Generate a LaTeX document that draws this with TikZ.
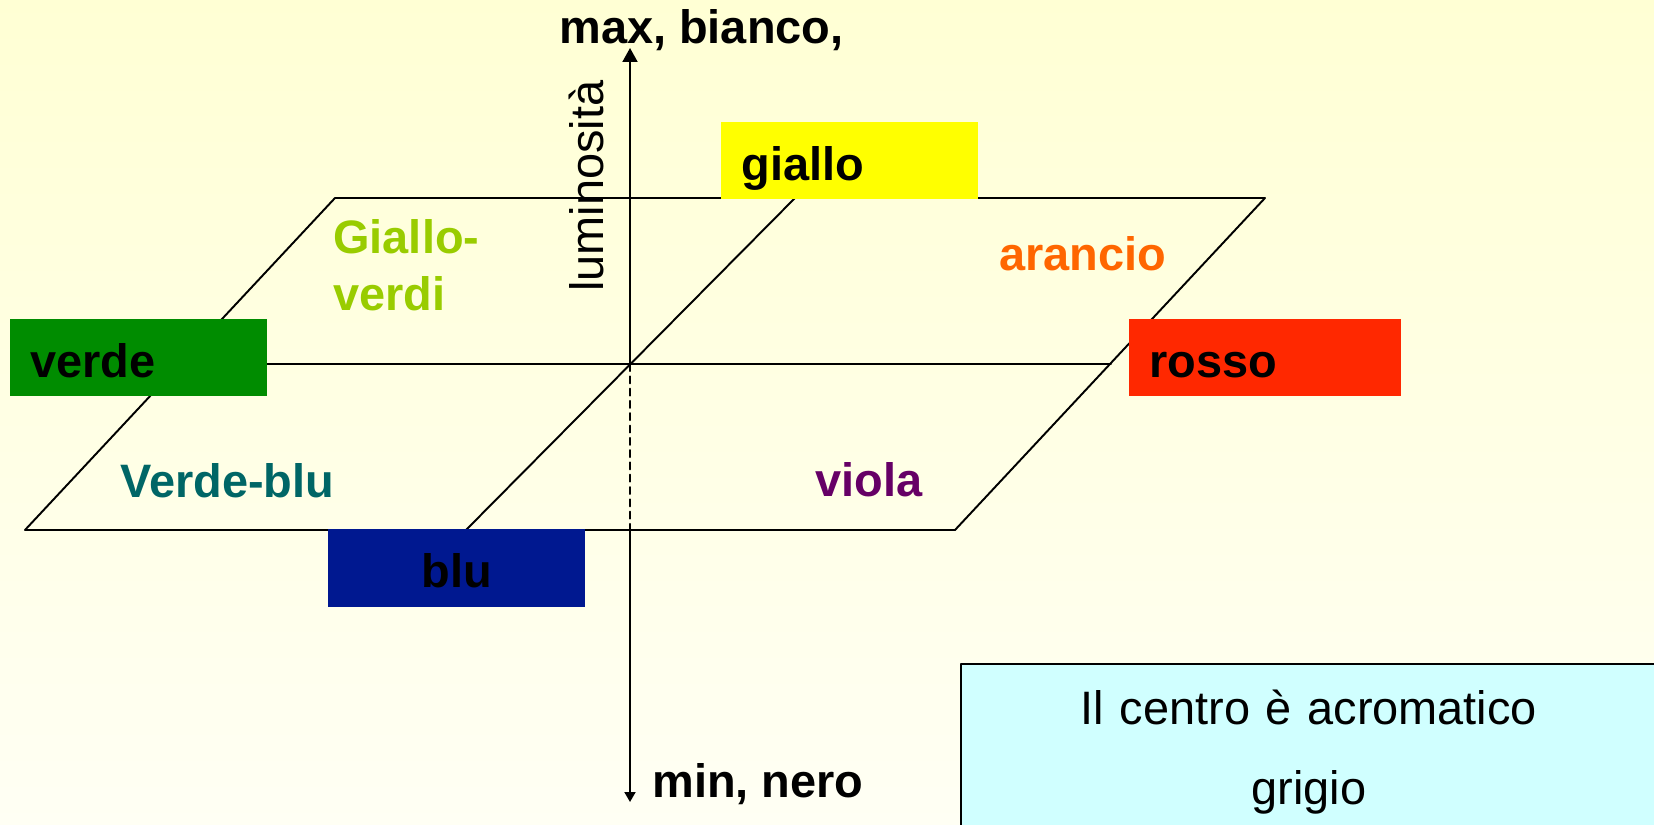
\documentclass[tikz,border=0pt]{standalone}
\usepackage{fontspec}
\setmainfont{Liberation Sans}
\usetikzlibrary{arrows.meta,positioning}

\definecolor{bgTop}{RGB}{255,255,212}
\definecolor{bgBot}{RGB}{255,255,244}
\definecolor{gialloBox}{RGB}{255,255,0}
\definecolor{verdeBox}{RGB}{0,140,0}
\definecolor{rossoBox}{RGB}{255,40,0}
\definecolor{bluBox}{RGB}{0,24,144}
\definecolor{gialloVerdi}{RGB}{153,204,0}
\definecolor{arancio}{RGB}{255,102,0}
\definecolor{verdeBlu}{RGB}{0,102,102}
\definecolor{viola}{RGB}{102,0,102}
\definecolor{infoCyan}{RGB}{208,255,255}

\begin{document}
\begin{tikzpicture}[
		x=0.02cm,
		y=-0.02cm,
		line cap=round,
		line join=round,
		edge/.style={line width=1.1pt},
		lbl/.style={font=\fontsize{26.7}{32}\selectfont\bfseries, anchor=base west, inner sep=0pt},
		colbox/.style={anchor=north west, inner ysep=0pt, inner xsep=0.4cm,
			text height=1.16cm, text depth=0.38cm, text width=4.34cm, align=left,
			font=\fontsize{26.7}{32}\selectfont\bfseries},
		infobox/.style={anchor=north west, draw=black, line width=1.1pt, fill=infoCyan,
			inner sep=0pt, text width=13.92cm, align=center,
			text height=1.22cm, text depth=2.12cm,
			font=\fontsize{26.7}{45.35}\selectfont}
		]
		
		%------------------------------------------------------------------
		% Background
		%------------------------------------------------------------------
		\useasboundingbox (0,0) rectangle (1654,825);
		\shade[top color=bgTop, bottom color=bgBot] (0,0) rectangle (1654,825);
		
		%------------------------------------------------------------------
		% Coordinates
		%------------------------------------------------------------------
		\coordinate (pTL)  at ( 335,198);
		\coordinate (pTR)  at (1265,198);
		\coordinate (pBR)  at ( 955,530);
		\coordinate (pBL)  at (  25,530);
		
		\coordinate (O)    at ( 630,364);
		\coordinate (mL)   at ( 180,364);
		\coordinate (mR)   at (1111,364);
		\coordinate (dTop) at ( 795,198);
		\coordinate (dBot) at ( 466,530);
		
		\coordinate (axTop) at (630, 48);
		\coordinate (axMid) at (630,530);
		\coordinate (axBot) at (630,802);
		
		%------------------------------------------------------------------
		% Hue plane
		%------------------------------------------------------------------
		\draw[edge] (pTL) -- (pTR) -- (pBR) -- (pBL) -- cycle;
		\draw[edge] (mL) -- (mR);
		\draw[edge] (dBot) -- (dTop);
		
		%------------------------------------------------------------------
		% Luminance axis
		%------------------------------------------------------------------
		\draw[edge, -{Triangle[length=0.28cm,width=0.3cm]}] (O) -- (axTop);
		\draw[edge, dash pattern=on 4pt off 3pt] (O) -- (axMid);
		\draw[edge, -{Triangle[length=0.2cm,width=0.22cm]}] (axMid) -- (axBot);
		
		%------------------------------------------------------------------
		% Colour boxes
		%------------------------------------------------------------------
		\node[colbox, fill=gialloBox] (giallo) at ( 721,122) {giallo};
		\node[colbox, fill=verdeBox]  (verde)  at (  10,319) {verde};
		\node[colbox, fill=rossoBox, text width=4.64cm] (rosso) at (1129,319) {rosso};
		\node[colbox, fill=bluBox, align=center, text height=1.16cm, text depth=0.4cm] (blu) at (328,529) {blu};
		
		%------------------------------------------------------------------
		% Labels
		%------------------------------------------------------------------
		\node[lbl, text=gialloVerdi, align=left, font=\fontsize{26.7}{32.3}\selectfont\bfseries] (gv) at (333,310) {Giallo-\\verdi};
		\node[lbl, text=arancio]  (ar) at ( 999,270) {arancio};
		\node[lbl, text=verdeBlu] (vb) at ( 120,497) {Verde-blu};
		\node[lbl, text=viola]    (vi) at ( 815,496) {viola};
		
		\node[lbl] (maxB) at (559, 43) {max, bianco,};
		\node[lbl] (minN) at (652,797) {min, nero};
		\node[lbl, font=\fontsize{26.7}{32}\selectfont, rotate=90] (lum) at (603,292) {luminosità};
		
		%------------------------------------------------------------------
		% Note
		%------------------------------------------------------------------
		\node[infobox] (note) at (960,663) {Il centro è acromatico\\grigio};
		
	\end{tikzpicture}
\end{document}
